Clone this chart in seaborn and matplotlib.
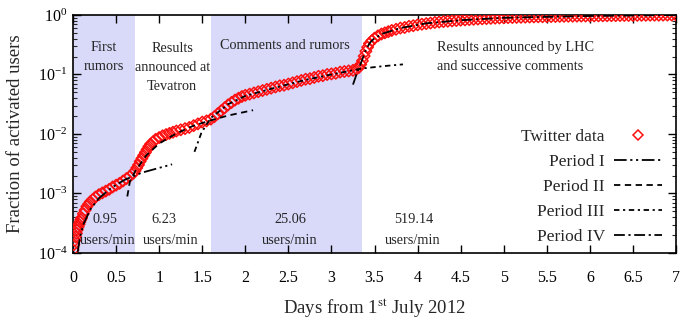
import numpy as np
import pandas as pd
import matplotlib
matplotlib.use("Agg")
import matplotlib.pyplot as plt
from matplotlib.lines import Line2D
from matplotlib.ticker import FixedLocator, FormatStrFormatter, LogLocator, NullFormatter
import seaborn as sns

# ---------------- data ----------------
data_days = [0.00, 0.01, 0.02, 0.03, 0.04, 0.05, 0.06, 0.07, 0.08, 0.09, 0.10,
             0.12, 0.14, 0.16, 0.18, 0.20, 0.23, 0.26, 0.30, 0.34, 0.38, 0.42,
             0.46, 0.50, 0.54, 0.58, 0.62, 0.66, 0.70, 0.72, 0.74, 0.76, 0.78,
             0.80, 0.82, 0.84, 0.86, 0.88, 0.90, 0.93, 0.96, 1.00, 1.04, 1.08,
             1.12, 1.16, 1.20, 1.25, 1.30, 1.35, 1.40, 1.45, 1.50, 1.55, 1.60,
             1.64, 1.68, 1.72, 1.76, 1.80, 1.84, 1.88, 1.92, 1.96, 2.00, 2.05,
             2.10, 2.15, 2.20, 2.25, 2.30, 2.35, 2.40, 2.45, 2.50, 2.55, 2.60,
             2.65, 2.70, 2.75, 2.80, 2.85, 2.90, 2.95, 3.00, 3.05, 3.10, 3.15,
             3.20, 3.25, 3.29, 3.32, 3.34, 3.36, 3.38, 3.40, 3.42, 3.44, 3.47,
             3.50, 3.54, 3.58, 3.62, 3.66, 3.70, 3.75, 3.80, 3.85, 3.90, 3.95,
             4.00, 4.05, 4.10, 4.15, 4.20, 4.25, 4.30, 4.35, 4.40, 4.45, 4.50,
             4.55, 4.60, 4.65, 4.70, 4.75, 4.80, 4.85, 4.90, 4.95, 5.00, 5.05,
             5.10, 5.15, 5.20, 5.25, 5.30, 5.35, 5.40, 5.45, 5.50, 5.55, 5.60,
             5.65, 5.70, 5.75, 5.80, 5.85, 5.90, 5.95, 6.00, 6.05, 6.10, 6.15,
             6.20, 6.25, 6.30, 6.35, 6.40, 6.45, 6.50, 6.55, 6.60, 6.65, 6.70,
             6.75, 6.80, 6.85, 6.90, 6.95, 7.00]
data_log10 = [-3.95, -3.86, -3.79, -3.73, -3.67, -3.61, -3.56, -3.52, -3.48, -3.44, -3.41,
              -3.34, -3.28, -3.22, -3.18, -3.14, -3.10, -3.06, -3.02, -2.99, -2.96, -2.93,
              -2.89, -2.86, -2.83, -2.79, -2.75, -2.71, -2.66, -2.62, -2.57, -2.52, -2.46,
              -2.41, -2.36, -2.31, -2.26, -2.21, -2.17, -2.13, -2.09, -2.06, -2.03, -2.01,
              -1.99, -1.97, -1.95, -1.93, -1.91, -1.89, -1.86, -1.83, -1.80, -1.78, -1.75,
              -1.71, -1.66, -1.61, -1.56, -1.51, -1.47, -1.43, -1.40, -1.37, -1.35, -1.33,
              -1.31, -1.29, -1.27, -1.25, -1.23, -1.21, -1.19, -1.18, -1.16, -1.14, -1.12,
              -1.10, -1.08, -1.07, -1.05, -1.03, -1.02, -1.00, -0.99, -0.98, -0.96, -0.95,
              -0.94, -0.93, -0.91, -0.88, -0.83, -0.77, -0.69, -0.61, -0.54, -0.48, -0.43,
              -0.39, -0.35, -0.32, -0.30, -0.28, -0.26, -0.24, -0.22, -0.21, -0.19, -0.18,
              -0.165, -0.155, -0.145, -0.135, -0.125, -0.118, -0.111, -0.105, -0.099, -0.093, -0.087,
              -0.082, -0.077, -0.072, -0.068, -0.064, -0.060, -0.056, -0.053, -0.050, -0.047, -0.044,
              -0.042, -0.040, -0.038, -0.036, -0.034, -0.032, -0.030, -0.029, -0.027, -0.026, -0.025,
              -0.023, -0.022, -0.021, -0.020, -0.019, -0.018, -0.017, -0.016, -0.015, -0.014, -0.013,
              -0.012, -0.011, -0.010, -0.009, -0.008, -0.0075, -0.007, -0.006, -0.0055, -0.005, -0.004,
              -0.0035, -0.003, -0.002, -0.0015, -0.001, 0.0]

period1_days = [0.055, 0.08, 0.12, 0.20, 0.30, 0.45, 0.60, 0.80, 1.00, 1.15]
period1_log10 = [-3.98, -3.74, -3.52, -3.27, -3.08, -2.90, -2.77, -2.65, -2.57, -2.51]

period2_days = [0.63, 0.66, 0.72, 0.85, 1.00, 1.20, 1.40, 1.60, 1.80, 2.09]
period2_log10 = [-3.05, -2.80, -2.63, -2.36, -2.16, -1.99, -1.86, -1.77, -1.69, -1.60]

period3_days = [1.41, 1.49, 1.60, 1.80, 2.00, 2.30, 2.70, 3.00, 3.35, 3.60, 3.83]
period3_log10 = [-2.30, -1.98, -1.73, -1.50, -1.36, -1.24, -1.09, -1.00, -0.90, -0.86, -0.83]

period4_days = [3.25, 3.30, 3.35, 3.40, 3.45, 3.50, 3.60, 3.80, 4.10, 4.50, 5.00, 6.00, 7.00]
period4_log10 = [-1.17, -0.96, -0.78, -0.58, -0.46, -0.39, -0.31, -0.22, -0.14, -0.088, -0.047, -0.016, 0.0]

periods = [(0.0, 0.72), (1.60, 3.35)]
period_titles = ["First\nrumors", "Results\nannounced at\nTevatron",
                 "Comments and rumors",
                 "Results announced by LHC\nand successive comments"]
rates = ["0.95", "6.23", "25.06", "519.14"]
legend_labels = ["Twitter data", "Period I", "Period II", "Period III", "Period IV"]
x_ticks = [0, 0.5, 1, 1.5, 2, 2.5, 3, 3.5, 4, 4.5, 5, 5.5, 6, 6.5, 7]

# ---------------- style ----------------
sns.set_theme(style="ticks")
plt.rcParams["font.family"] = ["Liberation Serif", "DejaVu Serif"]
plt.rcParams["mathtext.fontset"] = "stix"

fig = plt.figure(figsize=(6.85, 3.26), dpi=100)
ax = fig.add_axes([0.1066, 0.224, 0.8803, 0.730])

span_color = "#d9d9fa"
for a, b in periods:
    ax.axvspan(a, b, color=span_color, lw=0, zorder=0)

df = pd.DataFrame({"day": data_days, "frac": 10 ** np.array(data_log10)})
sns.scatterplot(data=df, x="day", y="frac", ax=ax, marker="D", s=34,
                fc="none", ec="#ff1010", linewidth=1.1, zorder=3, legend=False)

styles = [(0, (7, 2, 1.2, 2, 1.2, 2)),
          (0, (3.5, 2.5)),
          (0, (3, 2, 1.2, 2)),
          (0, (6, 2, 1.2, 2))]
fits = [(period1_days, period1_log10), (period2_days, period2_log10),
        (period3_days, period3_log10), (period4_days, period4_log10)]
for (d, lg), ls in zip(fits, styles):
    fdf = pd.DataFrame({"day": d, "frac": 10 ** np.array(lg)})
    sns.lineplot(data=fdf, x="day", y="frac", ax=ax, color="black", lw=1.3,
                 linestyle=ls, sort=False, estimator=None, zorder=4, legend=False)

ax.set_yscale("log")
ax.set_xlim(0, 7)
ax.set_ylim(1e-4, 1)
ax.xaxis.set_major_locator(FixedLocator(x_ticks))
ax.xaxis.set_major_formatter(FormatStrFormatter("%g"))
ax.yaxis.set_major_locator(LogLocator(base=10, numticks=10))
ax.yaxis.set_minor_locator(LogLocator(base=10, subs=np.arange(2, 10), numticks=10))
ax.yaxis.set_minor_formatter(NullFormatter())
ax.tick_params(axis="both", which="major", direction="in", top=True, right=True,
               length=6, width=1, labelsize=11.5, colors="black")
ax.tick_params(axis="both", which="minor", direction="in", top=True, right=True,
               length=3, width=0.8)
ax.tick_params(axis="x", which="major", pad=12)
ax.tick_params(axis="y", which="major", pad=4)
for s in ax.spines.values():
    s.set_linewidth(1.2)
    s.set_color("black")

ax.set_xlabel("Days from 1$^{\\rm st}$ July 2012", fontsize=13.5, labelpad=8)
ax.set_ylabel("Fraction of activated users", fontsize=13.5, labelpad=10)

# annotations
tk = dict(fontsize=10.3, ha="center", va="center", linespacing=1.6, zorder=5)
ax.text(0.36, 10 ** -0.70, period_titles[0], **tk)
ax.text(1.15, 10 ** -0.88, period_titles[1], **tk)
ax.text(2.46, 10 ** -0.52, period_titles[2], **tk)
ax.text(4.22, 10 ** -0.70, period_titles[3], fontsize=10.3, ha="left", va="center",
        linespacing=1.6, zorder=5)

rate_x = [0.37, 1.05, 2.52, 3.95]
user_x = [0.40, 1.13, 2.52, 3.94]
for rx, ux, r in zip(rate_x, user_x, rates):
    ax.text(rx, 10 ** -3.43, r, fontsize=10.3, ha="center", va="center", zorder=5)
    ax.text(ux, 10 ** -3.79, "users/min", fontsize=10.3, ha="center", va="center", zorder=5)

handles = [Line2D([], [], ls="none", marker="D", ms=5, mfc="none", mec="#ff1010", mew=1.1)]
for ls in styles:
    handles.append(Line2D([], [], color="black", lw=1.3, linestyle=ls))
leg = ax.legend(handles, legend_labels, loc="upper right", bbox_to_anchor=(0.977, 0.52),
                markerfirst=False, frameon=False, fontsize=12.5, handlelength=2.8,
                handletextpad=0.5, labelspacing=0.5, borderaxespad=0, borderpad=0,
                numpoints=1)

fig.savefig("out.png", dpi=100)
